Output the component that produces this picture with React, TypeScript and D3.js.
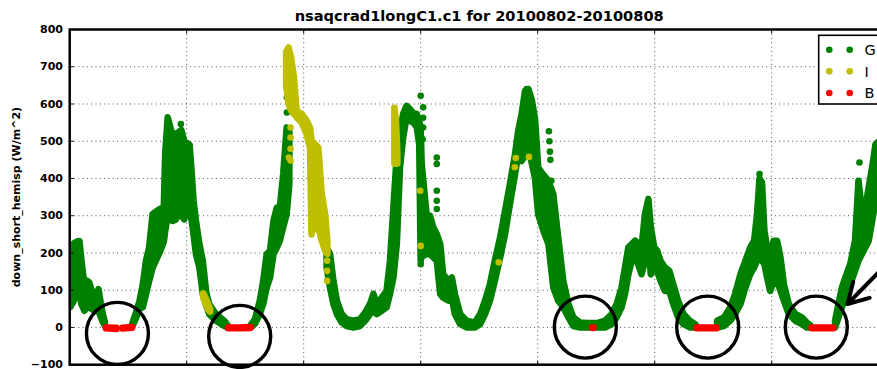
import React from 'react';
import * as d3 from 'd3';

// [hour since 2010-08-02 00:00 UTC, lowest value, highest value] in W/m^2
type Band = [number, number, number];
type Pt = [number, number];

const TITLE = 'nsaqcrad1longC1.c1 for 20100802-20100808';
const Y_LABEL = 'down_short_hemisp (W/m^2)';
const yTicks = [-100, 0, 100, 200, 300, 400, 500, 600, 700, 800];
const dayTicks = [0, 24, 48, 72, 96, 120, 144, 168];

// QC state "G" (good) samples, as runs of min/max envelopes
const greenBands: Band[][] = [
  [[0.1, 55, 215], [0.8, 70, 225], [1.4, 90, 230], [2.0, 95, 232], [2.4, 63, 180], [3.0, 45, 116],
   [3.6, 55, 125], [4.0, 54, 121], [4.5, 50, 100], [5.05, 45, 90], [5.5, 48, 80], [5.9, 45, 103],
   [6.4, 27, 63], [6.8, 15, 35], [7.2, 5, 15]],
  [[12.8, 2, 9], [13.6, 25, 40], [14.3, 50, 70], [15.0, 54, 116], [15.65, 90, 179], [16.3, 125, 215],
   [17.0, 160, 304], [18.4, 200, 318], [19.3, 230, 322], [19.6, 260, 470], [20.1, 300, 564],
   [20.6, 295, 540], [21.1, 286, 515], [21.8, 290, 520], [22.4, 330, 525], [22.9, 300, 530],
   [23.5, 290, 500], [24.1, 330, 495], [24.6, 310, 490], [25.0, 290, 420], [25.4, 250, 340],
   [25.9, 197, 286], [26.6, 161, 224], [27.3, 90, 179], [28.0, 60, 95], [28.6, 36, 63],
   [30.0, 18, 36], [31.7, 4, 18], [32.4, 0, 6]],
  [[37.1, 0, 6], [38.0, 10, 22], [39.0, 36, 72], [39.7, 63, 125], [40.4, 107, 197], [41.1, 134, 206],
   [41.8, 197, 286], [42.5, 215, 322], [43.1, 233, 322], [43.8, 269, 412], [44.5, 304, 537],
   [45.05, 385, 528]],
  [[52.7, 161, 215], [53.4, 107, 197], [54.1, 63, 125], [54.8, 36, 72], [55.8, 13, 36], [56.8, 4, 22],
   [58.2, 0, 18], [59.55, 4, 22], [60.6, 18, 40], [61.6, 36, 63], [62.3, 45, 90], [63.0, 36, 63],
   [64.0, 45, 80], [65.0, 54, 98], [65.7, 90, 179], [66.4, 134, 322], [67.1, 224, 465],
   [67.75, 430, 519], [68.4, 510, 573], [69.1, 564, 595], [69.8, 555, 586], [70.5, 550, 575],
   [71.2, 537, 573], [71.7, 492, 555], [72.0, 179, 530], [72.2, 190, 440], [73.2, 197, 304],
   [73.9, 197, 300], [74.6, 188, 268], [75.3, 179, 251], [76.0, 90, 224], [76.6, 80, 143],
   [77.7, 72, 125], [78.4, 80, 134], [79.0, 36, 90], [80.1, 9, 36], [81.4, 0, 18], [83.1, 0, 13],
   [84.2, 9, 36], [85.2, 36, 72], [86.2, 72, 116], [87.2, 125, 179], [88.3, 188, 242],
   [89.3, 251, 313], [90.3, 331, 385], [91.35, 412, 465], [92.0, 465, 528], [92.7, 447, 573],
   [93.4, 460, 635], [94.1, 480, 640], [94.8, 440, 610], [95.45, 401, 560], [96.1, 304, 430],
   [97.15, 260, 410], [98.2, 224, 394], [99.2, 107, 358], [100.2, 72, 242], [101.25, 54, 125],
   [102.3, 27, 63], [103.3, 4, 27], [104.7, 0, 13], [106.05, 0, 12], [108.4, 0, 12], [109.8, 0, 18],
   [111.2, 9, 36], [112.2, 27, 63], [113.2, 54, 107], [113.9, 90, 161], [114.6, 143, 215],
   [115.3, 179, 224], [116.0, 188, 233], [116.6, 170, 224], [117.3, 143, 215], [118.0, 179, 304],
   [118.7, 233, 345], [119.2, 143, 269], [119.9, 161, 215], [120.5, 152, 206], [121.2, 125, 179],
   [122.1, 98, 161], [123.0, 98, 152], [123.8, 63, 116], [124.8, 27, 72], [125.9, 9, 36],
   [127.2, 0, 18], [128.4, 0, 8]],
  [[132.8, 0, 18], [134.2, 4, 27], [135.5, 18, 54], [136.5, 36, 90], [137.6, 63, 143],
   [138.6, 107, 179], [139.6, 143, 215], [140.4, 161, 233], [141.0, 179, 304], [141.5, 188, 400],
   [142.0, 180, 390], [142.5, 170, 260], [143.05, 134, 215], [143.7, 98, 179], [144.4, 125, 233],
   [145.1, 125, 233], [145.8, 98, 188], [146.5, 72, 116], [147.5, 36, 63], [148.85, 18, 36],
   [150.2, 9, 27], [151.2, 0, 13], [151.9, 0, 6]],
  [[157.0, 0, 18], [157.7, 27, 63], [158.4, 54, 107], [159.1, 80, 134], [160.1, 116, 170],
   [161.1, 152, 233], [161.8, 179, 394], [162.5, 197, 313], [163.2, 215, 322], [163.9, 233, 376],
   [164.6, 286, 430], [165.3, 340, 492], [166.0, 360, 500]],
];

// isolated "G" samples away from the main trace
const greenDots: Pt[] = [
  [22.8, 546], [44.55, 618], [44.55, 577], [72.0, 622], [72.5, 591], [72.5, 563], [72.5, 537],
  [72.4, 505], [72.0, 170], [75.3, 456], [75.3, 439], [75.3, 367], [75.3, 340], [75.3, 318],
  [93.75, 640], [98.3, 527], [98.4, 500], [98.5, 472], [98.6, 450], [98.8, 394], [141.5, 412],
  [162.0, 443],
];

// QC state "I" (indeterminate)
const yellowBands: Band[][] = [
  [[27.4, 80, 92], [27.9, 62, 78], [28.4, 48, 62], [28.8, 42, 50]],
  [[44.4, 650, 740], [44.9, 600, 752], [45.4, 582, 725], [46.0, 573, 671], [46.55, 564, 582],
   [47.6, 550, 573], [48.6, 519, 555], [49.3, 483, 537], [49.6, 250, 501], [50.3, 286, 492],
   [51.0, 268, 483], [51.7, 233, 358], [52.4, 206, 304], [52.85, 197, 233]],
  [[66.6, 440, 590], [66.9, 440, 560], [67.2, 440, 470]],
];
const yellowDots: Pt[] = [
  [45.3, 537], [45.3, 510], [45.3, 480], [45.3, 448], [44.95, 456], [52.8, 179], [52.8, 152],
  [52.8, 125], [71.9, 367], [72.0, 219], [88.0, 175], [91.3, 430], [91.5, 455], [94.2, 458],
];

// QC state "B" (bad)
const redBands: Band[][] = [
  [[7.4, -2, 0], [9.6, -4, -1]],
  [[10.8, -3, -1], [12.8, -1, 1]],
  [[32.5, -2, 0], [34.1, -2, 0]],
  [[34.7, -2, 0], [37.1, -1, 1]],
  [[107.15, -1, 0], [107.45, -1, 0]],
  [[128.6, -2, 0], [132.7, -2, 0]],
  [[152.2, -2, 0], [154.2, -2, 0]],
  [[154.6, -2, 0], [156.6, -2, 0]],
];

const legendItems = [
  { label: 'G', color: '#008000' },
  { label: 'I', color: '#bfbf00' },
  { label: 'B', color: '#ff0000' },
];

// highlighted night-time minima (hour, value) and the pointer toward the Aug 8 rise
const circledSpots: Pt[] = [[9.79, -16], [34.87, -24], [105.77, 1], [130.87, 1], [153.15, 1]];
const arrowTail: Pt = [168.3, 180];
const arrowTip: Pt = [159.55, 63];

export default function App() {
  const W = 877;
  const H = 369;
  const left = 69.7;
  const right = 888.7;
  const top = 29.5;
  const bottom = 364.7;

  const x = d3.scaleLinear().domain([0, 168]).range([left, right]);
  const y = d3.scaleLinear().domain([-100, 800]).range([bottom, top]);
  const area = d3
    .area<Band>()
    .x((d) => x(d[0]))
    .y0((d) => y(d[1]))
    .y1((d) => y(d[2]));

  const dotR = 3.3;
  const bandStroke = dotR * 2;

  const drawBands = (bands: Band[][], color: string, key: string) =>
    bands.map((seg, i) => (
      <path
        key={`${key}${i}`}
        d={area(seg) || ''}
        fill={color}
        stroke={color}
        strokeWidth={bandStroke}
        strokeLinejoin="round"
        strokeLinecap="round"
      />
    ));
  const drawDots = (pts: Pt[], color: string, key: string) =>
    pts.map((p, i) => <circle key={`${key}${i}`} cx={x(p[0])} cy={y(p[1])} r={dotR} fill={color} />);

  // arrow geometry
  const tx = x(arrowTip[0]);
  const ty = y(arrowTip[1]);
  const sx = x(arrowTail[0]);
  const sy = y(arrowTail[1]);
  const ang = Math.atan2(sy - ty, sx - tx);
  const headLen = 23;
  const headSpread = (30 * Math.PI) / 180;
  const arm = (s: number) => [tx + headLen * Math.cos(ang + s), ty + headLen * Math.sin(ang + s)];
  const a1 = arm(headSpread);
  const a2 = arm(-headSpread);

  const gridStyle = { stroke: '#555', strokeWidth: 1, strokeDasharray: '1 3.3' };

  return (
    <svg
      width={W}
      height={H}
      style={{ position: 'absolute', left: 0, top: 0, background: '#fff' }}
      fontFamily="'DejaVu Sans', sans-serif"
    >
      <defs>
        <clipPath id="plotArea">
          <rect x={left} y={top} width={right - left} height={bottom - top} />
        </clipPath>
      </defs>
      <rect x={0} y={0} width={W} height={H} fill="#fff" />

      {/* grid */}
      <g>
        {yTicks.slice(1, -1).map((t) => (
          <line key={`gy${t}`} x1={left} x2={right} y1={y(t)} y2={y(t)} {...gridStyle} />
        ))}
        {dayTicks.slice(1, -1).map((t) => (
          <line key={`gx${t}`} x1={x(t)} x2={x(t)} y1={top} y2={bottom} {...gridStyle} />
        ))}
      </g>

      {/* data */}
      <g clipPath="url(#plotArea)">
        {drawBands(greenBands, '#008000', 'g')}
        {drawDots(greenDots, '#008000', 'gd')}
        {drawBands(yellowBands, '#bfbf00', 'y')}
        {drawDots(yellowDots, '#bfbf00', 'yd')}
        {drawBands(redBands, '#ff0000', 'r')}
      </g>

      {/* ticks */}
      <g stroke="#000" strokeWidth={1}>
        {yTicks.map((t) => (
          <line key={`ty${t}`} x1={left} x2={left + 4} y1={y(t)} y2={y(t)} />
        ))}
        {dayTicks.map((t) => (
          <g key={`tx${t}`}>
            <line x1={x(t)} x2={x(t)} y1={top} y2={top + 4} />
            <line x1={x(t)} x2={x(t)} y1={bottom} y2={bottom - 4} />
          </g>
        ))}
      </g>

      {/* frame */}
      <rect x={left} y={top} width={right - left} height={bottom - top} fill="none" stroke="#000" strokeWidth={2.5} />

      {/* y tick labels */}
      <g fontSize={11} fontWeight="bold" textAnchor="end">
        {yTicks.map((t) => (
          <text key={`yl${t}`} x={63} y={y(t)} dy="0.34em">
            {t < 0 ? `\u2212${Math.abs(t)}` : t}
          </text>
        ))}
      </g>

      <text
        x={0}
        y={0}
        transform={`translate(20, ${(top + bottom) / 2}) rotate(-90)`}
        textAnchor="middle"
        fontSize={11}
        fontWeight="bold"
      >
        {Y_LABEL}
      </text>

      <text x={(left + right) / 2} y={20.7} textAnchor="middle" fontSize={14.6} fontWeight="bold">
        {TITLE}
      </text>

      {/* legend */}
      <g>
        <rect x={818.7} y={35.3} width={90} height={68.7} fill="#fff" stroke="#000" strokeWidth={1.6} />
        {legendItems.map((it, i) => (
          <g key={it.label}>
            <circle cx={829.3} cy={49.7 + i * 21.65} r={dotR} fill={it.color} />
            <circle cx={849.7} cy={49.7 + i * 21.65} r={dotR} fill={it.color} />
            <text x={864.5} y={49.7 + i * 21.65} dy="0.36em" fontSize={14.5}>
              {it.label}
            </text>
          </g>
        ))}
      </g>

      {/* annotations */}
      <g fill="none" stroke="#000" strokeWidth={3.4}>
        {circledSpots.map((p, i) => (
          <circle key={`c${i}`} cx={x(p[0])} cy={y(p[1])} r={31} />
        ))}
        <path
          d={`M${sx},${sy}L${tx},${ty}M${a1[0]},${a1[1]}L${tx},${ty}L${a2[0]},${a2[1]}`}
          strokeWidth={4}
          strokeLinecap="round"
          strokeLinejoin="round"
        />
      </g>
    </svg>
  );
}
